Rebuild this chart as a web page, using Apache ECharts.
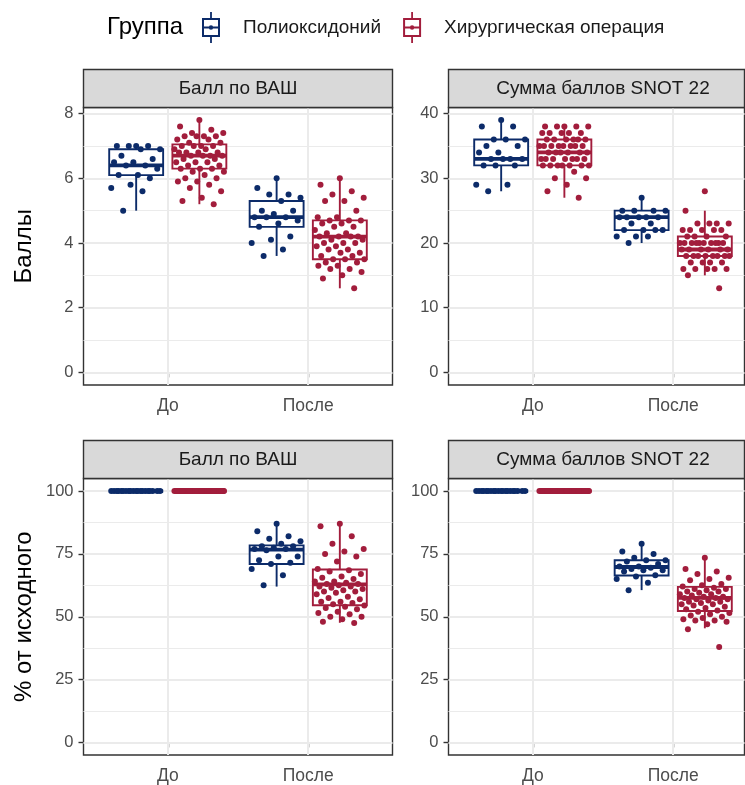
<!DOCTYPE html>
<html>
<head>
<meta charset="utf-8">
<script src="https://cdn.jsdelivr.net/npm/echarts@6/dist/echarts.min.js"></script>
<style>
  html, body { margin: 0; padding: 0; background: #ffffff; }
  #chart { width: 745px; height: 785px; }
</style>
</head>
<body>
<div id="chart"></div>
<script>
// ---------------- data ----------------
const categories = ['До', 'После'];
const groups = ['Полиоксидоний', 'Хирургическая операция'];
const panelTitles = ['Балл по ВАШ', 'Сумма баллов SNOT 22', 'Балл по ВАШ', 'Сумма баллов SNOT 22'];
const yAxisTitles = ['Баллы', '% от исходного'];

const vasTicks = [0, 2, 4, 6, 8];
const snotTicks = [0, 10, 20, 30, 40];
const pctTicks = [0, 25, 50, 75, 100];

// box statistics per category: [lower whisker, Q1, median, Q3, upper whisker]
const vasBoxPoly = [[5.0, 6.1, 6.4, 6.9, 7.0], [3.6, 4.5, 4.8, 5.3, 6.0]];
const vasBoxSurg = [[5.2, 6.3, 6.7, 7.05, 7.8], [2.6, 3.5, 4.2, 4.7, 6.0]];
const snotBoxPoly = [[28, 32, 33, 36, 39], [20, 22, 24, 25, 27]];
const snotBoxSurg = [[27, 32, 34, 36, 38], [15, 18, 19, 21, 25]];
const vasPctBoxPoly = [[100, 100, 100, 100, 100], [62, 71, 76.7, 78.4, 87]];
const vasPctBoxSurg = [[100, 100, 100, 100, 100], [47.6, 54.6, 62.9, 68.8, 86.6]];
const snotPctBoxPoly = [[100, 100, 100, 100, 100], [60.6, 66.4, 69.8, 72.5, 79.2]];
const snotPctBoxSurg = [[100, 100, 100, 100, 100], [45.4, 52.3, 57.5, 61.9, 73.4]];

// individual patients
const vasPolyBefore = [7.0, 7.0, 7.0, 7.0, 6.9, 6.9, 6.7, 6.6, 6.5, 6.5, 6.4, 6.4, 6.3, 6.1, 6.1, 6.0, 5.8, 5.7, 5.6, 5.0];
const vasPolyAfter = [6.0, 5.7, 5.5, 5.5, 5.4, 5.3, 5.0, 5.0, 4.9, 4.8, 4.8, 4.8, 4.7, 4.6, 4.5, 4.2, 4.1, 4.0, 3.8, 3.6];
const vasSurgBefore = [7.8, 7.6, 7.5, 7.4, 7.4, 7.3, 7.3, 7.3, 7.3, 7.2, 7.2, 7.1, 7.1, 7.0, 7.0, 7.0, 7.0, 6.9, 6.9, 6.8,
  6.8, 6.8, 6.8, 6.7, 6.7, 6.7, 6.7, 6.6, 6.6, 6.5, 6.5, 6.5, 6.4, 6.4, 6.3, 6.3, 6.3, 6.2, 6.2, 6.1,
  6.0, 6.0, 5.9, 5.9, 5.8, 5.7, 5.6, 5.4, 5.3, 5.2];
const vasSurgAfter = [6.0, 5.8, 5.6, 5.5, 5.4, 5.3, 5.3, 5.0, 4.8, 4.8, 4.7, 4.7, 4.7, 4.6, 4.6, 4.5, 4.5, 4.4, 4.3, 4.3,
  4.2, 4.2, 4.2, 4.2, 4.1, 4.1, 4.0, 4.0, 4.0, 3.9, 3.9, 3.8, 3.8, 3.7, 3.7, 3.6, 3.6, 3.5, 3.5, 3.5,
  3.4, 3.4, 3.3, 3.3, 3.2, 3.2, 3.1, 3.0, 2.9, 2.6];

const snotPolyBefore = [39, 38, 38, 36, 36, 36, 35, 35, 34, 34, 33, 33, 33, 33, 32, 32, 32, 29, 29, 28];
const snotPolyAfter = [27, 25, 25, 25, 25, 24, 24, 24, 24, 24, 23, 23, 22, 22, 22, 22, 21, 21, 21, 20];
const snotSurgBefore = [38, 38, 38, 38, 38, 37, 37, 37, 37, 37, 36, 36, 36, 36, 36, 36, 35, 35, 35, 35,
  35, 35, 35, 35, 34, 34, 34, 34, 34, 34, 33, 33, 33, 33, 33, 33, 33, 32, 32, 32,
  32, 32, 32, 32, 31, 30, 30, 29, 28, 27];
const snotSurgAfter = [28, 25, 23, 23, 23, 23, 22, 22, 22, 22, 22, 21, 21, 21, 21, 20, 20, 20, 20, 20,
  20, 20, 20, 20, 20, 19, 19, 19, 19, 19, 19, 18, 18, 18, 18, 18, 18, 18, 18, 17,
  17, 17, 17, 16, 16, 16, 16, 16, 15, 13];

const pctPolyBefore = [100, 100, 100, 100, 100, 100, 100, 100, 100, 100, 100, 100, 100, 100, 100, 100, 100, 100, 100, 100];
const pctSurgBefore = [100, 100, 100, 100, 100, 100, 100, 100, 100, 100, 100, 100, 100, 100, 100, 100, 100, 100, 100, 100,
  100, 100, 100, 100, 100, 100, 100, 100, 100, 100, 100, 100, 100, 100, 100, 100, 100, 100, 100, 100,
  100, 100, 100, 100, 100, 100, 100, 100, 100, 100];
const vasPctPolyAfter = [87, 84, 82, 81, 80, 79, 78, 78, 77.5, 77, 77, 76.5, 74, 74, 72.5, 71.5, 71, 69, 66.5, 62.5];
const vasPctSurgAfter = [87, 86, 82, 79, 77, 76, 75, 74, 72, 69, 68.5, 68, 67, 66, 65.5, 65, 64, 64, 63.5, 63,
  63, 62.5, 62, 62, 61.5, 61, 60.5, 60, 60, 59.5, 59, 58, 57.5, 57, 56, 56, 55.5, 55, 54.5, 54,
  53.5, 53, 52, 51.5, 51, 50, 50, 49, 48, 47.5];
const snotPctPolyAfter = [79, 76, 75, 73.5, 72.5, 72.5, 72, 71, 70, 70, 69.5, 69, 68.5, 68.5, 68, 66.5, 66, 65, 63.5, 60.5];
const snotPctSurgAfter = [73.5, 69, 68, 67, 65.5, 65, 64.5, 63, 62.5, 62, 61.5, 61, 61, 60.5, 60, 60, 59.5, 59, 59, 58.5,
  58, 58, 57.5, 57.5, 57, 57, 56.5, 56, 56, 55.5, 55, 55, 54.5, 54, 53.5, 53, 52.5, 52, 51.5, 51,
  50.5, 50, 49.5, 49, 48.5, 48.5, 48, 47, 45, 38];

// ---------------- styling / layout ----------------
const FONT = 'Liberation Sans, Arial, sans-serif';
const groupColors = ['#0C2B69', '#A21D3C'];
const DODGE = [-0.225, 0.225];
const BOX_WIDTH = 0.384;
const JITTER_SPREAD = 0.36;
const LINE_W = 1.9;
const MEDIAN_W = 3.8;
const STRIP_H = 38;
const panelBoxes = [
  { left: 83.5, top: 107.5, width: 309, height: 277.5 },
  { left: 448.5, top: 107.5, width: 296, height: 277.5 },
  { left: 83.5, top: 478.5, width: 309, height: 277 },
  { left: 448.5, top: 478.5, width: 296, height: 277 }
];
const UNIT_PX = panelBoxes[0].width / 2.2;   // discrete axis: 0.6 padding each side

const panels = [
  { ticks: vasTicks, boxes: [vasBoxPoly, vasBoxSurg], points: [[vasPolyBefore, vasPolyAfter], [vasSurgBefore, vasSurgAfter]], yName: yAxisTitles[0] },
  { ticks: snotTicks, boxes: [snotBoxPoly, snotBoxSurg], points: [[snotPolyBefore, snotPolyAfter], [snotSurgBefore, snotSurgAfter]], yName: '' },
  { ticks: pctTicks, boxes: [vasPctBoxPoly, vasPctBoxSurg], points: [[pctPolyBefore, vasPctPolyAfter], [pctSurgBefore, vasPctSurgAfter]], yName: yAxisTitles[1] },
  { ticks: pctTicks, boxes: [snotPctBoxPoly, snotPctBoxSurg], points: [[pctPolyBefore, snotPctPolyAfter], [pctSurgBefore, snotPctSurgAfter]], yName: '' }
];

// even horizontal spread of points inside each box
const jitter = i => ((((i * 0.6180339887) + 0.5) % 1) - 0.5) * JITTER_SPREAD;

function renderBox(params, api) {
  const x = api.value(0);
  const pt = k => api.coord([x, api.value(k)]);
  const lo = pt(1), q1 = pt(2), med = pt(3), q3 = pt(4), hi = pt(5);
  const half = api.size([BOX_WIDTH, 0])[0] / 2;
  const cx = lo[0];
  const color = api.visual('color');
  const whisker = (y1, y2) => ({
    type: 'line', shape: { x1: cx, y1: y1, x2: cx, y2: y2 },
    style: { stroke: color, lineWidth: LINE_W }
  });
  return {
    type: 'group',
    children: [
      whisker(lo[1], q1[1]),
      whisker(q3[1], hi[1]),
      { type: 'rect', shape: { x: cx - half, y: q3[1], width: 2 * half, height: q1[1] - q3[1] },
        style: { fill: '#ffffff', stroke: color, lineWidth: LINE_W } },
      { type: 'line', shape: { x1: cx - half, y1: med[1], x2: cx + half, y2: med[1] },
        style: { stroke: color, lineWidth: MEDIAN_W } }
    ]
  };
}

const grids = [], xAxes = [], yAxes = [], series = [], graphics = [];

panels.forEach((p, pi) => {
  const box = panelBoxes[pi];
  grids.push({ left: box.left, top: box.top, width: box.width, height: box.height,
    show: true, backgroundColor: '#ffffff', borderColor: '#333333', borderWidth: 1.4 });

  const allVals = p.points.flat(2);
  const yMax = Math.max(...allVals);
  const pad = 0.05 * yMax;
  const tickStep = p.ticks[1] - p.ticks[0];
  const minorLines = p.ticks.slice(0, -1).map(t => t + tickStep / 2);

  xAxes.push({
    gridIndex: pi, type: 'value', min: 0.4, max: 0.4 + box.width / UNIT_PX,
    axisLine: { show: false },
    axisTick: { show: true, customValues: [1, 2], length: 5, lineStyle: { color: '#333333', width: 1.4 } },
    axisLabel: { customValues: [1, 2], formatter: v => categories[Math.round(v) - 1] || '',
      color: '#4D4D4D', fontSize: 17.5, margin: 12, fontFamily: FONT },
    splitLine: { show: false }
  });
  yAxes.push({
    gridIndex: pi, type: 'value', min: -pad, max: yMax + pad,
    axisLine: { show: false },
    axisTick: { show: true, customValues: p.ticks, length: 5, lineStyle: { color: '#333333', width: 1.4 } },
    axisLabel: { customValues: p.ticks, color: '#4D4D4D', fontSize: 16.5, margin: 10, fontFamily: FONT },
    splitLine: { show: false },
    name: p.yName, nameLocation: 'middle', nameRotate: 90, nameGap: 47,
    nameTextStyle: { fontSize: 24, color: '#000000', fontFamily: FONT }
  });

  // background grid drawn as reference lines
  const gridLineData = [
    ...p.ticks.map(t => ({ yAxis: t, lineStyle: { width: 2 } })),
    ...minorLines.map(t => ({ yAxis: t, lineStyle: { width: 1 } })),
    ...[1, 2].map(c => ({ xAxis: c, lineStyle: { width: 2 } }))
  ];

  groups.forEach((g, gi) => {
    const dodge = DODGE[gi];
    series.push({
      type: 'custom', name: g, xAxisIndex: pi, yAxisIndex: pi, z: 2,
      itemStyle: { color: groupColors[gi] },
      renderItem: renderBox,
      encode: { x: 0, y: [1, 2, 3, 4, 5] },
      data: p.boxes[gi].map((b, ci) => [ci + 1 + dodge].concat(b)),
      animation: false, silent: true
    });
    const pts = [];
    p.points[gi].forEach((vals, ci) => {
      vals.forEach((v, i) => pts.push([ci + 1 + dodge + jitter(i), v]));
    });
    const sc = {
      type: 'scatter', name: g, xAxisIndex: pi, yAxisIndex: pi, z: 3,
      symbol: 'circle', symbolSize: 6,
      itemStyle: { color: groupColors[gi], opacity: 1 },
      data: pts, animation: false, silent: true
    };
    if (gi === 0) {
      sc.markLine = {
        silent: true, symbol: 'none', z: 1, animation: false,
        label: { show: false },
        lineStyle: { color: '#EBEBEB', type: 'solid' },
        emphasis: { disabled: true },
        data: gridLineData
      };
    }
    series.push(sc);
  });

  // facet strip
  graphics.push({
    type: 'rect', silent: true, z: 10,
    shape: { x: box.left, y: box.top - STRIP_H, width: box.width, height: STRIP_H },
    style: { fill: '#D9D9D9', stroke: '#333333', lineWidth: 1.4 }
  });
  graphics.push({
    type: 'text', silent: true, z: 11,
    x: box.left + panelBoxes[0].width / 2, y: box.top - STRIP_H / 2,
    style: { text: panelTitles[pi], fill: '#1A1A1A', fontSize: 19, align: 'center', verticalAlign: 'middle',
      fontFamily: FONT }
  });
});

const legendIcon = 'path://M8.1,0H9.9V7H8.1Z M8.1,24H9.9V31H8.1Z M0,6H18V8H0Z M0,23H18V25H0Z ' +
  'M0,6H2V25H0Z M16,6H18V25H16Z M1,14.5H17V16.5H1Z M6.8,15.5A2.2,2.2 0 1,1 11.2,15.5A2.2,2.2 0 1,1 6.8,15.5Z';

const chart = echarts.init(document.getElementById('chart'), null, { renderer: 'canvas' });
chart.setOption({
  backgroundColor: '#ffffff',
  animation: false,
  color: groupColors,
  title: {
    text: 'Группа', left: 107, top: 15, padding: 0,
    textStyle: { fontSize: 24, fontWeight: 'normal', color: '#000000', fontFamily: FONT }
  },
  legend: {
    left: 202, top: 12, orient: 'horizontal', padding: 0,
    itemWidth: 18, itemHeight: 31, itemGap: 22, selectedMode: false,
    textStyle: { fontSize: 19, color: '#1A1A1A', padding: [0, 0, 0, 18], fontFamily: FONT },
    data: groups.map(g => ({ name: g, icon: legendIcon }))
  },
  grid: grids,
  xAxis: xAxes,
  yAxis: yAxes,
  series: series,
  graphic: graphics
});
</script>
</body>
</html>
